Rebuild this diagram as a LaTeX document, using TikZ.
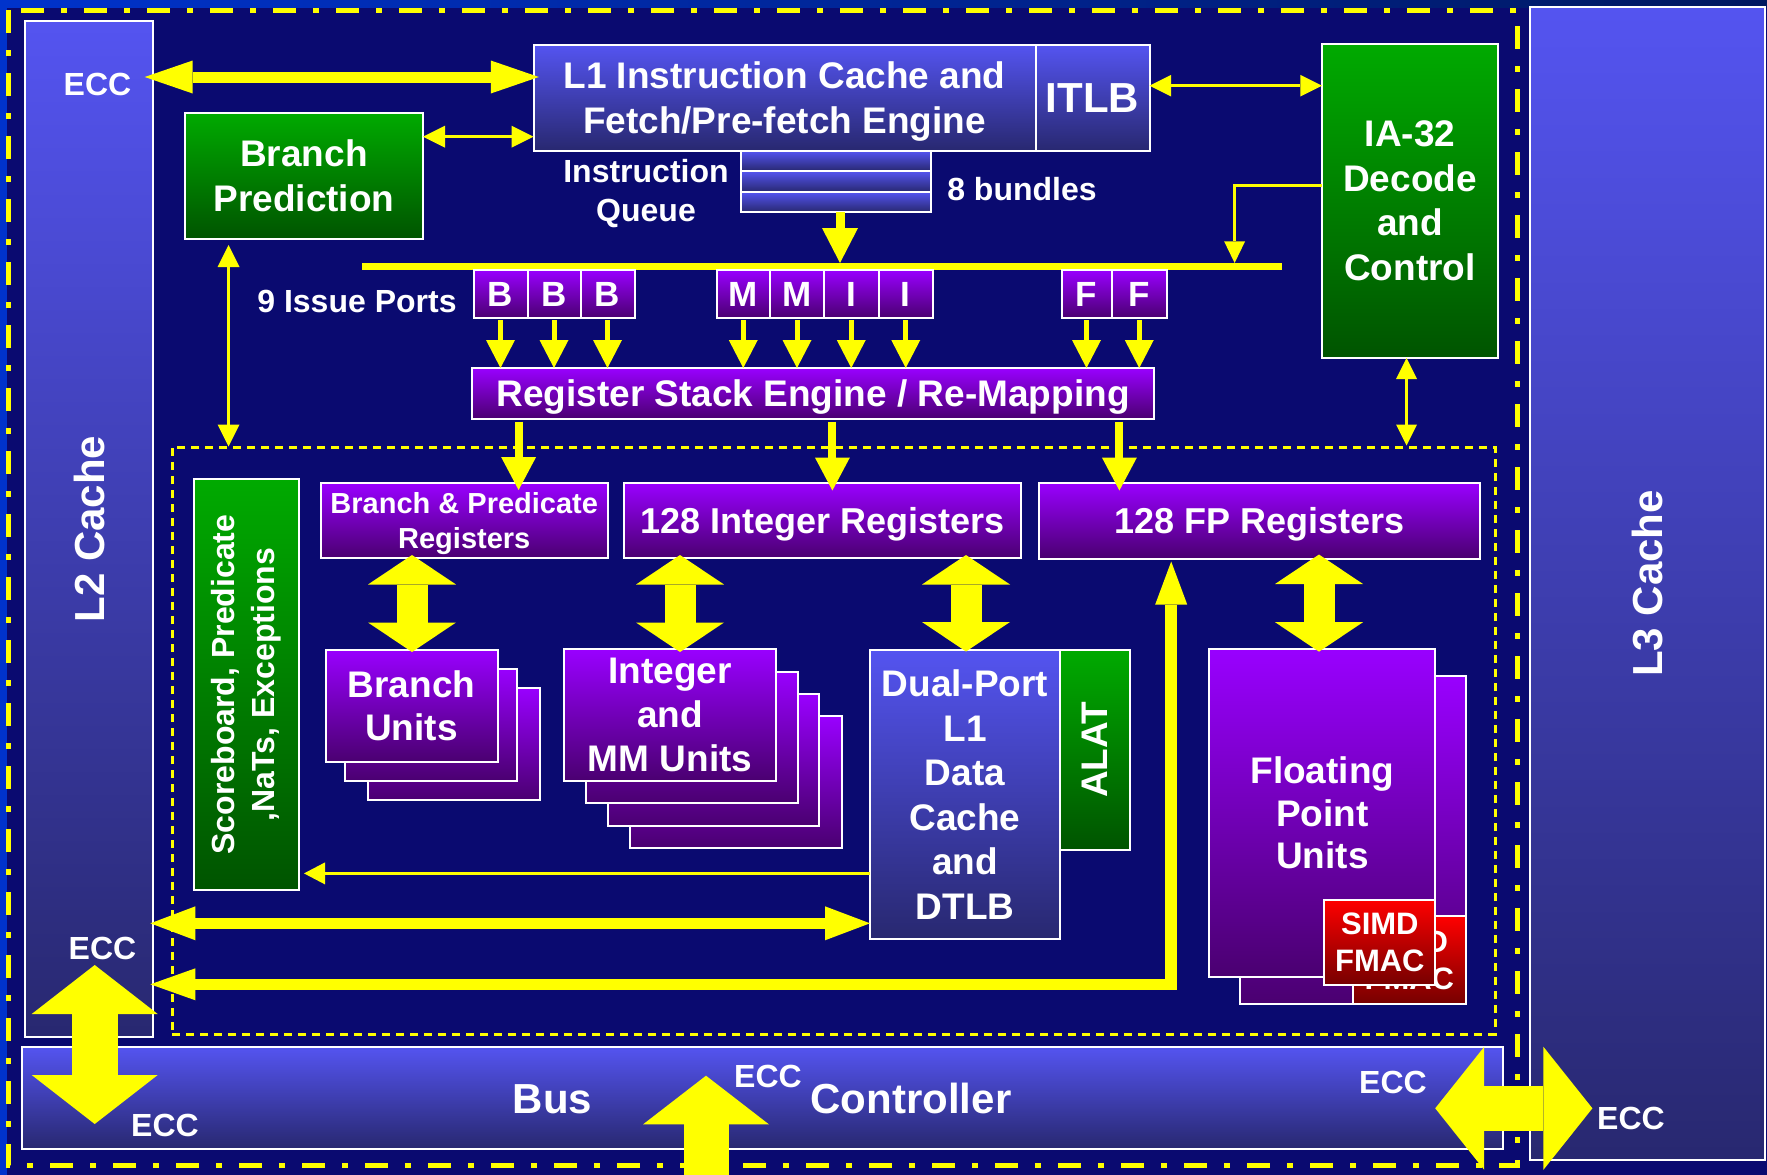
\documentclass[tikz,border=0pt]{standalone}
\usepackage{fontspec}
\usepackage{graphicx}
\setmainfont{Liberation Sans}
\usetikzlibrary{arrows.meta,calc}
\definecolor{navy}{RGB}{10,10,112}
\definecolor{edgeblue}{RGB}{0,51,204}
\definecolor{edgedark}{RGB}{0,24,96}
\definecolor{bluetop}{RGB}{84,84,240}
\definecolor{bluebot}{RGB}{40,40,112}
\definecolor{viotop}{RGB}{153,0,255}
\definecolor{viobot}{RGB}{74,0,112}
\definecolor{grntop}{RGB}{0,170,0}
\definecolor{grnbot}{RGB}{0,84,0}
\definecolor{redtop}{RGB}{255,0,0}
\definecolor{redbot}{RGB}{118,0,0}
\definecolor{ylw}{RGB}{255,255,0}
\newcommand\myfs[2]{\fontsize{#1}{#2}\selectfont}
\begin{document}
\begin{tikzpicture}[x=1pt,y=-1pt,
  every node/.style={inner sep=0pt, outer sep=0pt, text=white, align=center, text depth=0pt},
  box/.style={draw=white, line width=2pt, rectangle},
  bluebox/.style={box, top color=bluetop, bottom color=bluebot},
  violetbox/.style={box, top color=viotop, bottom color=viobot},
  greenbox/.style={box, top color=grntop, bottom color=grnbot},
  redbox/.style={box, top color=redtop, bottom color=redbot},
  port/.style={violetbox, minimum height=48pt, font=\myfs{35}{42}\bfseries},
  ecc/.style={anchor=base, font=\myfs{32}{38}\bfseries},
  lbl/.style={font=\myfs{32}{38.5}\bfseries},
  dbl/.style n args={3}{draw=ylw, line width=#1pt, arrows={Triangle[length=#2pt,width=#3pt,line width=0pt]-Triangle[length=#2pt,width=#3pt,line width=0pt]}},
  sgl/.style n args={3}{draw=ylw, line width=#1pt, arrows={-Triangle[length=#2pt,width=#3pt,line width=0pt]}},
]
\useasboundingbox (0,0) rectangle (1767,1175);
\fill[left color=edgeblue, right color=edgedark] (0,0) rectangle (1767,1175);
\fill[navy] (7,8) rectangle (1767,1175);
\draw[ylw, line width=5pt, dash pattern=on 23pt off 17pt on 6pt off 17pt] (8.4,10) rectangle (1517,1165);
\node[draw=ylw, line width=3pt, dash pattern=on 8pt off 6pt, minimum width=1323pt, minimum height=587pt] (core) at (833.5,740.5) {};

% caches and bus
\node[bluebox, minimum width=128pt, minimum height=1016pt, font=\myfs{42}{50}\bfseries] (l2) at (89,529) {\rotatebox{90}{L2 Cache}};
\node[bluebox, minimum width=235pt, minimum height=1153pt, font=\myfs{42}{50}\bfseries] (l3) at (1647.5,583.5) {\rotatebox{90}{L3 Cache}};
\node[bluebox, minimum width=1481pt, minimum height=102pt] (bus) at (762.5,1098) {};

% front end
\node[bluebox, minimum width=502pt, minimum height=105.5pt, font=\myfs{37}{45}\bfseries] (l1) at (784.5,97.75) {L1 Instruction Cache and\\Fetch/Pre-fetch Engine};
\node[bluebox, minimum width=114pt, minimum height=106pt, font=\myfs{42}{50}\bfseries] (itlb) at (1092.5,98) {ITLB};
\node[greenbox, minimum width=238pt, minimum height=126pt, font=\myfs{37}{45}\bfseries] (bp) at (304,176) {Branch\\Prediction};
\node[greenbox, minimum width=176pt, minimum height=314.5pt, font=\myfs{37}{44.5}\bfseries] (ia) at (1410,200.75) {IA-32\\Decode\\and\\Control};
\node[bluebox, minimum width=190pt, minimum height=20pt] (q1) at (836,161) {};
\node[bluebox, minimum width=190pt, minimum height=21pt] (q2) at (836,181.5) {};
\node[bluebox, minimum width=190pt, minimum height=20pt] (q3) at (836,202) {};
\node[lbl] (iql) at (646,190.5) {Instruction\\Queue};
\node[lbl] (bun) at (1022,188.5) {8 bundles};
\node[lbl] (ipl) at (357,301.7) {9 Issue Ports};

% issue bar and ports
\coordinate (barL) at (362,266.5);
\coordinate (barR) at (1282,266.5);
\coordinate (bartop) at (0,263);
\draw[ylw, line width=7.5pt] (barL) -- (barR);
\node[port, minimum width=54pt] (b1) at (500.5,294) {B};
\node[port, minimum width=53pt] (b2) at (554,294) {B};
\node[port, minimum width=54pt] (b3) at (607.5,294) {B};
\node[port, minimum width=53.5pt] (m1) at (743.25,294) {M};
\node[port, minimum width=54pt] (m2) at (797,294) {M};
\node[port, minimum width=54.5pt] (i1) at (851.25,294) {I};
\node[port, minimum width=54.5pt] (i2) at (905.75,294) {I};
\node[port, minimum width=50pt] (f1) at (1086.5,294) {F};
\node[port, minimum width=55.5pt] (f2) at (1139.25,294) {F};

\node[violetbox, minimum width=682pt, minimum height=51pt, font=\myfs{37}{44}\bfseries] (rse) at (813,393.5) {Register Stack Engine / Re-Mapping};

% registers
\node[greenbox, minimum width=105pt, minimum height=411pt, font=\myfs{32}{40}\bfseries] (sb) at (246.5,684.5) {\rotatebox{90}{\begin{tabular}{@{}c@{}}Scoreboard, Predicate\\,NaTs, Exceptions\end{tabular}}};
\node[violetbox, minimum width=286.5pt, minimum height=75pt, font=\myfs{29}{35}\bfseries] (bpr) at (464.25,520.5) {Branch \& Predicate\\Registers};
\node[violetbox, minimum width=396.5pt, minimum height=75pt, font=\myfs{36}{43}\bfseries] (ir) at (822.25,520.5) {128 Integer Registers};
\node[violetbox, minimum width=441pt, minimum height=75.5pt, font=\myfs{36}{43}\bfseries] (fr) at (1259.5,520.75) {128 FP Registers};

% units
\node[violetbox, minimum width=172pt, minimum height=112.5pt] (bu3) at (453.8,744.15) {};
\node[violetbox, minimum width=172pt, minimum height=112.5pt] (bu2) at (431.1,724.75) {};
\node[violetbox, minimum width=172pt, minimum height=112.5pt, font=\myfs{37}{43.5}\bfseries] (bu) at (411.5,705.75) {Branch\\Units};
\node[violetbox, minimum width=211.6pt, minimum height=131.7pt] (iu4) at (736.1,781.85) {};
\node[violetbox, minimum width=211.6pt, minimum height=131.7pt] (iu3) at (713.4,760.15) {};
\node[violetbox, minimum width=211.6pt, minimum height=131.7pt] (iu2) at (691.8,737.55) {};
\node[violetbox, minimum width=211.6pt, minimum height=131.7pt, font=\myfs{37}{44}\bfseries] (iu) at (670.1,715.15) {Integer\\and\\MM Units};
\node[bluebox, minimum width=190pt, minimum height=289pt, font=\myfs{37}{44.5}\bfseries] (dp) at (965,794.5) {Dual-Port\\L1\\Data\\Cache\\and\\DTLB};
\node[greenbox, minimum width=70pt, minimum height=200pt, font=\myfs{37}{44}\bfseries] (alat) at (1095,750) {\rotatebox{90}{ALAT}};
\node[violetbox, minimum width=226pt, minimum height=328.7pt] (fpu2) at (1352.7,839.9) {};
\node[redbox, minimum width=112.7pt, minimum height=88.3pt, font=\myfs{31}{37}\bfseries] (simd2) at (1409.35,960.15) {SIMD\\FMAC};
\node[violetbox, minimum width=226pt, minimum height=328.7pt, font=\myfs{37}{42.5}\bfseries] (fpu) at (1322.4,813) {Floating\\Point\\Units};
\node[redbox, minimum width=111pt, minimum height=85.8pt, font=\myfs{31}{37}\bfseries] (simd) at (1379.85,942.4) {SIMD\\FMAC};

% arrows
\coordinate (ya) at (0,77);
\draw[dbl={11}{48}{33}] ($(l2.east |- ya)+(-8.3,0)$) -- ($(l1.west |- ya)+(5.3,0)$);
\coordinate (yb) at (0,136.7);
\draw[dbl={3}{22}{22}] (bp.east |- yb) -- (l1.west |- yb);
\coordinate (yc) at (0,85.7);
\draw[dbl={3}{21.7}{21.7}] (itlb.east |- yc) -- (ia.west |- yc);
\draw[sgl={9}{35}{36}] ($(q3.south)+(4,0)$) -- ($(q3.south |- bartop)+(4,0)$);
\coordinate (yd) at (0,185);
\coordinate (xd) at (1234.6,0);
\draw[sgl={3}{21.7}{21}] (ia.west |- yd) -| (xd |- bartop);
\foreach \p in {b1,b2,b3,m1,m2,i1,i2,f1,f2}
  \draw[sgl={5}{28}{29}] ($(\p.south)+(0,2)$) -- (\p.south |- rse.north);
\coordinate (xe) at (228.5,0);
\draw[dbl={3}{22}{22}] ($(xe |- bp.south)+(0,6)$) -- ($(xe |- core.north)+(0,-0.5)$);
\coordinate (xA) at (518.6,0);
\coordinate (xB) at (832.4,0);
\coordinate (xC) at (1119.4,0);
\draw[sgl={8}{33}{35}] ($(xA |- rse.south)+(0,2.5)$) -- ($(xA |- bpr.north)+(0,7)$);
\draw[sgl={8}{33}{35}] ($(xB |- rse.south)+(0,2.5)$) -- ($(xB |- ir.north)+(0,7.5)$);
\draw[sgl={8}{33}{35}] ($(xC |- rse.south)+(0,2.5)$) -- ($(xC |- fr.north)+(0,7.5)$);
\coordinate (x1) at (412,0);
\coordinate (x2) at (680,0);
\coordinate (x3) at (966,0);
\coordinate (x4) at (1319,0);
\draw[dbl={31}{29.5}{88}] ($(x1 |- bpr.south)+(0,-3)$) -- ($(x1 |- bu.north)+(0,2.5)$);
\draw[dbl={31}{29.5}{88}] ($(x2 |- ir.south)+(0,-3)$) -- ($(x2 |- iu.north)+(0,2.7)$);
\draw[dbl={31}{29.5}{88}] ($(x3 |- ir.south)+(0,-3)$) -- ($(x3 |- dp.north)+(0,1.5)$);
\draw[dbl={31}{29.5}{88}] ($(x4 |- fr.south)+(0,-4)$) -- ($(x4 |- fpu.north)+(0,3)$);
\coordinate (yf) at (0,873.4);
\draw[sgl={3}{21}{22}] (dp.west |- yf) -- ($(sb.east |- yf)+(5,0)$);
\coordinate (yg) at (0,923.3);
\draw[dbl={11}{45}{34}] ($(l2.east |- yg)+(-2.6,0)$) -- (dp.west |- yg);
\coordinate (yh) at (0,984.3);
\coordinate (xh) at (1171.2,0);
\draw[draw=ylw, line width=11.5pt, arrows={Triangle[length=45pt,width=32pt,line width=0pt]-Triangle[length=43pt,width=32pt,line width=0pt]}] ($(l2.east |- yh)+(-2.6,0)$) -- (xh |- yh) -- ($(xh |- fr.south)+(0,3)$);
\coordinate (xi) at (1406.6,0);
\draw[dbl={3}{21}{21}] (xi |- ia.south) -- ($(xi |- core.north)+(0,-1.5)$);
\coordinate (xj) at (94.7,0);
\draw[dbl={46}{49}{126}] ($(xj |- l2.south)+(0,-72)$) -- ($(xj |- bus.south)+(0,-25)$);
\coordinate (upfoot) at (706,1175);
\draw[sgl={45}{48.7}{126}] (upfoot) -- ($(upfoot |- bus.north)+(0,28.7)$);
\coordinate (yk) at (0,1108.3);
\draw[dbl={45}{49}{123}] ($(bus.east |- yk)+(-67.8,0)$) -- ($(l3.west |- yk)+(62.4,0)$);

% labels
\node[anchor=base, font=\myfs{42}{50}\bfseries] (busl) at (552.5,1113.3) {Bus};
\node[anchor=base, font=\myfs{42}{50}\bfseries] (ctl) at (911,1113.3) {Controller};
\node[ecc] (ecc1) at (97.5,95) {ECC};
\node[ecc] (ecc2) at (102.5,959.3) {ECC};
\node[ecc] (ecc3) at (165,1136.7) {ECC};
\node[ecc] (ecc4) at (768,1087.3) {ECC};
\node[ecc] (ecc5) at (1393,1093.3) {ECC};
\node[ecc] (ecc6) at (1631,1129.3) {ECC};
\end{tikzpicture}
\end{document}
